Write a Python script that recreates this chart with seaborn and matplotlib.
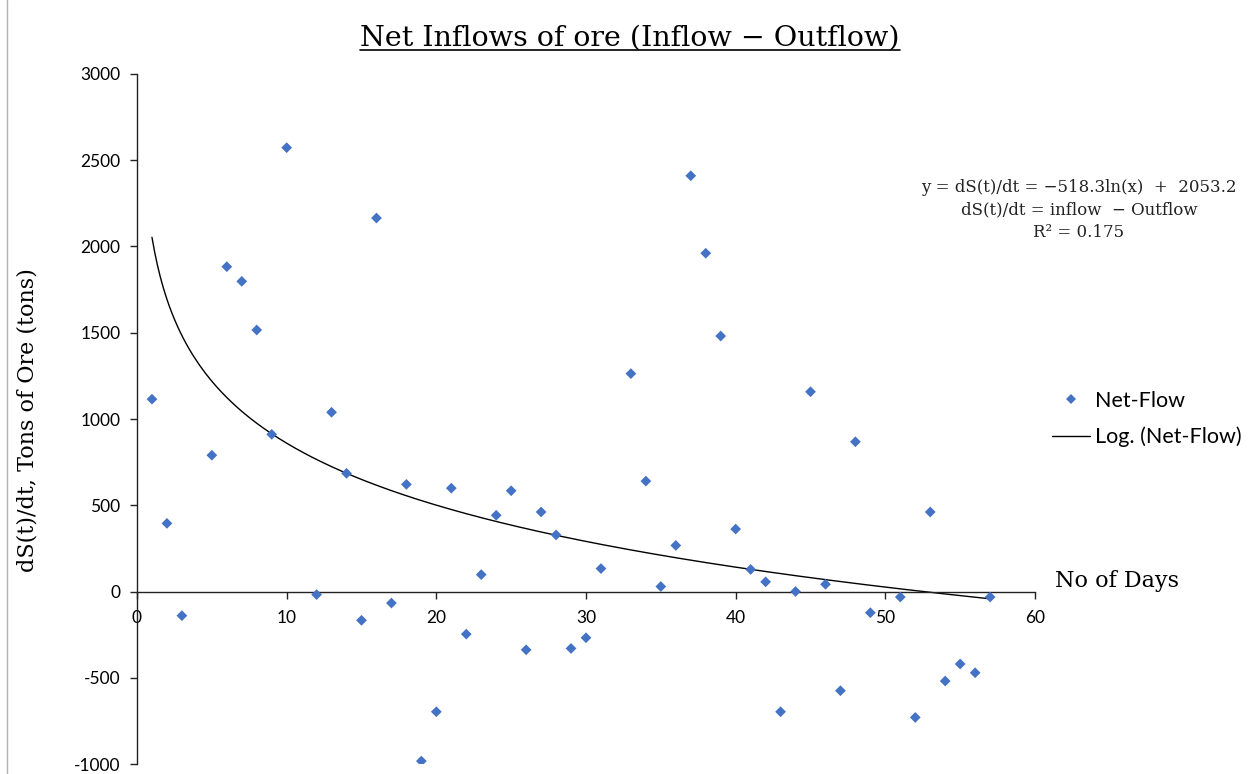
import numpy as np
import pandas as pd
import matplotlib
matplotlib.use("Agg")
import matplotlib.pyplot as plt
from matplotlib.lines import Line2D
import seaborn as sns

# day number and net flow (inflow - outflow), tons of ore
days = [1, 2, 3, 5, 6, 7, 8, 9, 10, 12, 13, 14, 15, 16, 17, 18, 19, 20,
        21, 22, 23, 24, 25, 26, 27, 28, 29, 30, 31, 33, 34, 35, 36, 37, 38,
        39, 40, 41, 42, 43, 44, 45, 46, 47, 48, 49, 51, 52, 53, 54, 55, 56, 57]
net_flow = [1115, 395, -140, 790, 1883, 1798, 1516, 911, 2573, -18, 1039, 685,
            -167, 2165, -67, 621, -983, -697, 599, -247, 98, 442, 584, -338,
            461, 328, -330, -268, 133, 1263, 640, 29, 267, 2410, 1961, 1481,
            362, 128, 56, -697, 0, 1158, 42, -575, 868, -123, -32, -730, 461,
            -519, -420, -471, -32]

# logarithmic trendline coefficients shown on the chart
trend_a = -518.3
trend_b = 2053.2

df = pd.DataFrame({"day": days, "net": net_flow})
trend_x = np.linspace(1, 57, 300)
trend = pd.DataFrame({"day": trend_x, "net": trend_a * np.log(trend_x) + trend_b})

sns.set_style("white")
plt.rcParams["axes.unicode_minus"] = False
plt.rcParams["text.color"] = "black"
plt.rcParams["font.family"] = ["Lato", "DejaVu Sans"]

fig = plt.figure(figsize=(12.5, 7.74), dpi=100)
ax = fig.add_axes([0.1096, 0.0129, 0.7184, 0.8915])

sns.scatterplot(data=df, x="day", y="net", marker="D", color="#4472C4",
                s=30, edgecolor="none", ax=ax, zorder=3)
sns.lineplot(data=trend, x="day", y="net", color="black", linewidth=1,
             ax=ax, zorder=2)

ax.set_xlim(0, 60)
ax.set_ylim(-1000, 3000)
ax.set_xticks(range(0, 61, 10))
ax.set_yticks(range(-1000, 3001, 500))
ax.set_xlabel("")
ax.set_ylabel("")

ax.spines["top"].set_visible(False)
ax.spines["right"].set_visible(False)
ax.spines["bottom"].set_position(("data", 0))
ax.spines["left"].set_position(("data", 0))
for s in ["bottom", "left"]:
    ax.spines[s].set_color("#222222")
    ax.spines[s].set_linewidth(1)
ax.tick_params(axis="both", direction="out", length=5, width=1,
               color="#222222", labelsize=12.5, labelcolor="black",
               left=True, bottom=True)
ax.tick_params(axis="x", pad=8)
ax.tick_params(axis="y", pad=7)

# legend
handles = [
    Line2D([], [], marker="D", linestyle="none", color="#4472C4",
           markersize=5.5, markeredgewidth=0),
    Line2D([], [], color="black", linewidth=1),
]
ax.legend(handles, ["Net-Flow", "Log. (Net-Flow)"], frameon=False,
          loc="center left", bbox_to_anchor=(1052 / 1250, 1 - 419 / 774),
          bbox_transform=fig.transFigure, fontsize=15.5, handlelength=1.75,
          handletextpad=0.25, labelspacing=0.75, borderpad=0,
          borderaxespad=0)

serif = ["DejaVu Serif"]
ax.text(1.022, 0.0, "No of Days", transform=ax.get_yaxis_transform(),
        fontsize=16, family=serif, ha="left", va="bottom")
ax.text(1079 / 1250, 1 - 210 / 774,
        "y = dS(t)/dt = \u2212518.3ln(x)  +  2053.2\n"
        "dS(t)/dt = inflow  \u2212 Outflow\nR\u00b2 = 0.175",
        transform=fig.transFigure, fontsize=12, family=serif,
        ha="center", va="center", linespacing=1.4, color="#222222")

fig.text(0.022, 1 - 420 / 774, "dS(t)/dt, Tons of Ore (tons)", rotation=90,
         fontsize=16, family=serif, ha="center", va="center")

title = fig.text(630 / 1250, 1 - 38 / 774, "Net Inflows of ore (Inflow \u2212 Outflow)",
                 fontsize=20.5, family=serif, ha="center", va="center")

# underline the title
fig.canvas.draw()
bb = title.get_window_extent().transformed(fig.transFigure.inverted())
fig.add_artist(Line2D([bb.x0, bb.x1], [bb.y0 + 0.002, bb.y0 + 0.002],
                      transform=fig.transFigure, color="black", linewidth=1.2))

# chart border on the left
fig.add_artist(Line2D([7 / 1250, 7 / 1250], [0, 1], transform=fig.transFigure,
                      color="#b0b0b0", linewidth=1))

fig.savefig("out.png", dpi=100)
